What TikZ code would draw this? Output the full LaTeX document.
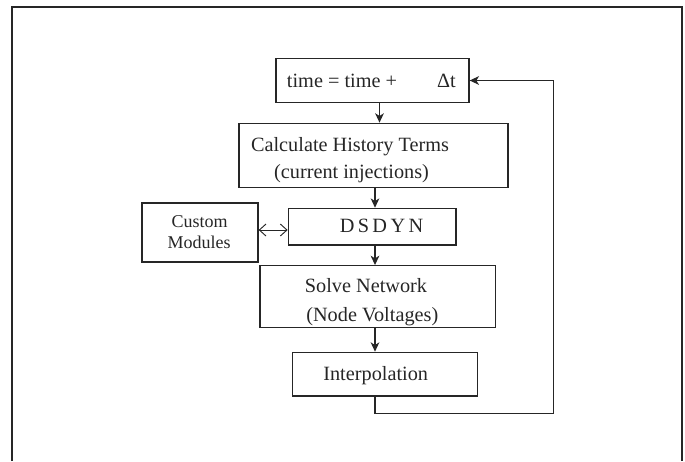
\documentclass[tikz,border=0pt]{standalone}
\usepackage{fontspec}
\setmainfont{Liberation Serif}
\usepackage{xcolor}
\usetikzlibrary{calc,
	positioning,
	shapes,
	arrows.meta}
\definecolor{inkgray}{HTML}{262626}
\tikzset{box/.style={draw=inkgray, line width=1pt, rectangle, inner sep=0pt},
	txt/.style={inner sep=0pt, anchor=base, text=inkgray, font=\fontsize{15.2}{18}\selectfont},
	smalltxt/.style={txt, font=\fontsize{13.5}{16}\selectfont},
	flow/.style={draw=inkgray, line width=0.9pt, ->},
	barb/.style={draw=inkgray, line width=0.7pt, {Straight Barb[length=5pt,width=9pt]}-{Straight Barb[length=5pt,width=9pt]}}}

\begin{document}
\begin{tikzpicture}[x = 0.75pt, y = -0.75pt, >={Stealth[length=7pt,width=6.5pt,inset=2pt]}]
            \useasboundingbox (0, 0) rectangle (685, 461);
            \draw[inkgray, line width=1.3pt] (12.3, 461) -- (12.3, 7.3) -- (682, 7.3) -- (682, 461);
            % boxes
            \node[box, minimum width=144.75pt, minimum height=33.3pt] (time) at (372.5, 80.5) {};
            \node[box, minimum width=201.75pt, minimum height=48pt] (calc) at (373.5, 155.3) {};
            \node[box, line width=1.4pt, minimum width=86.55pt, minimum height=44.25pt] (custom) at (200, 232.2) {};
            \node[box, minimum width=125.8pt, minimum height=27.5pt] (dsdyn) at (372.2, 226.7) {};
            \node[box, minimum width=176.8pt, minimum height=46.5pt] (solve) at (377.9, 296.7) {};
            \node[box, minimum width=139pt, minimum height=32.8pt] (interp) at (385, 374.2) {};
            % texts
            \node[txt, anchor=base west] (timetxt) at (286.7, 87.3) {time = time +\hspace{30pt}Δt};
            \node[txt] (calctxta) at (350, 151.7) {Calculate History Terms};
            \node[txt] (calctxtb) at (351.5, 178) {(current injections)};
            \node[smalltxt] (customtxta) at (199.7, 227.7) {Custom};
            \node[smalltxt] (customtxtb) at (199, 248.3) {Modules};
            \node[txt] (dsdyntxt) at (381.5, 232) {D\,S\,D\,Y\,N};
            \node[txt] (solvetxta) at (366, 292.7) {Solve Network};
            \node[txt] (solvetxtb) at (372.3, 321.7) {(Node Voltages)};
            \node[txt] (interptxt) at (375.7, 380) {Interpolation};
            % connectors
            \coordinate (spinetop) at (379.5, 0);
            \coordinate (spine) at (375, 0);
            \coordinate (linky) at (0, 230);
            \coordinate (loopcorner) at (553.3, 413.3);
            \draw[flow] (spinetop |- time.south) -- (spinetop |- calc.north);
            \draw[flow] (spine |- calc.south) -- (spine |- dsdyn.north);
            \draw[flow] (spine |- dsdyn.south) -- (spine |- solve.north);
            \draw[flow] (spine |- solve.south) -- (spine |- interp.north);
            \draw[flow] (spine |- interp.south) |- (loopcorner) |- (time.east);
            \draw[barb] (custom.east |- linky) -- (dsdyn.west |- linky);
        \end{tikzpicture}
\end{document}
